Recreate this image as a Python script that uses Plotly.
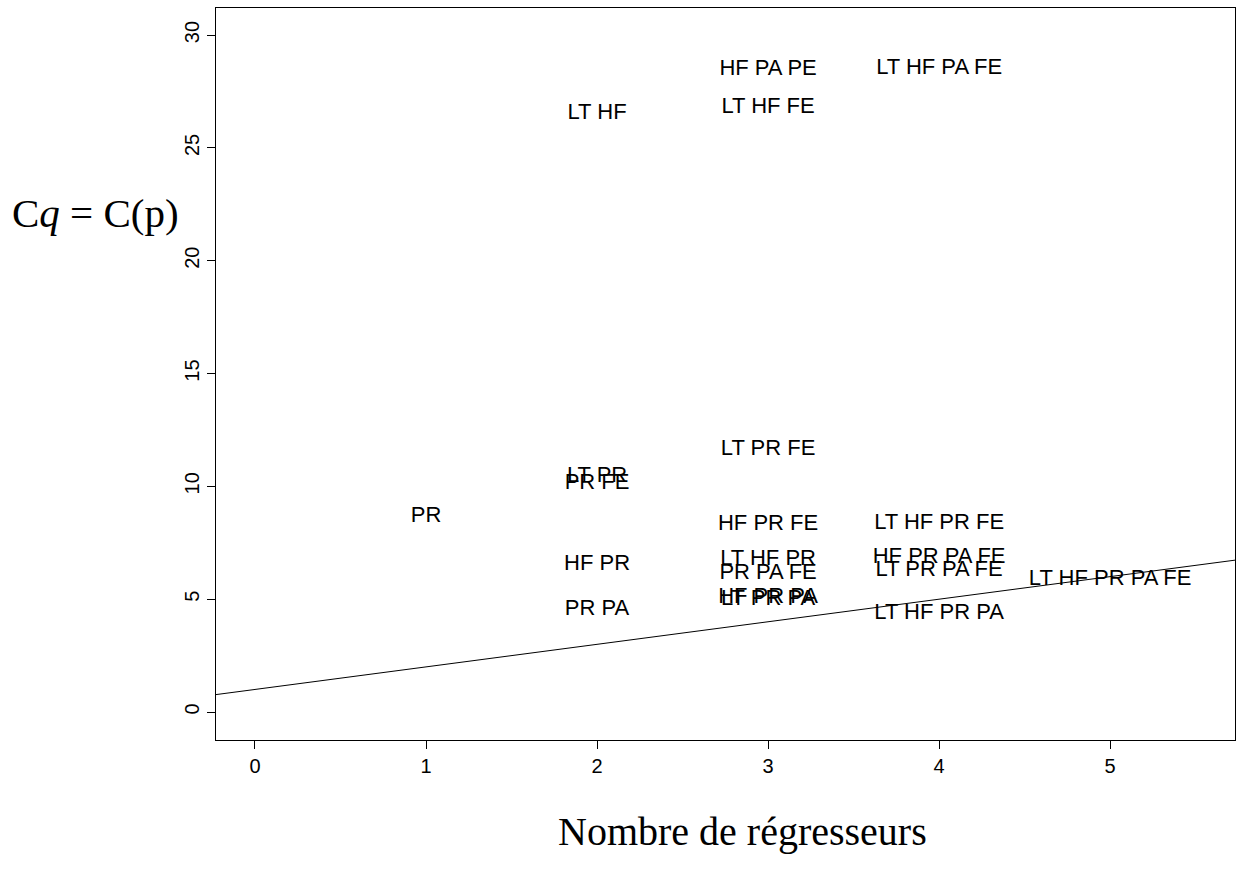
import plotly.graph_objects as go

# Data: number of regressors, Cp values, model labels
n_regressors = [1, 2, 2, 2, 2, 2, 3, 3, 3, 3, 3, 3, 3, 3, 4, 4, 4, 4, 4, 5]
cp_values = [8.65, 10.42, 10.12, 6.52, 4.55, 26.52, 28.47, 26.78, 11.62, 8.3, 6.76, 6.12,
             5.08, 4.98, 28.52, 8.34, 6.84, 6.27, 4.36, 5.87]
model_labels = ["PR", "LT PR", "PR FE", "HF PR", "PR PA", "LT HF",
                "HF PA PE", "LT HF FE", "LT PR FE", "HF PR FE", "LT HF PR", "PR PA FE",
                "HF PR PA", "LT PR PA",
                "LT HF PA FE", "LT HF PR FE", "HF PR PA FE", "LT PR PA FE", "LT HF PR PA",
                "LT HF PR PA FE"]

# Reference line Cp = p + 1 (intercept, slope)
ref_intercept = 1
ref_slope = 1
ref_x = [-1, 7]
ref_y = [ref_intercept + ref_slope * v for v in ref_x]

x_ticks = [0, 1, 2, 3, 4, 5]
y_ticks = [0, 5, 10, 15, 20, 25, 30]

fig = go.Figure()
fig.add_trace(go.Scatter(
    x=ref_x, y=ref_y, mode="lines",
    line=dict(color="black", width=1), showlegend=False, hoverinfo="skip"))
fig.add_trace(go.Scatter(
    x=n_regressors, y=cp_values, mode="text", text=model_labels,
    textposition="middle center",
    textfont=dict(family="Liberation Sans, Arial, sans-serif", size=22, color="black"),
    showlegend=False))

axis_common = dict(
    showline=True, linecolor="black", linewidth=1, mirror=True,
    ticks="outside", ticklen=8, tickcolor="black", tickwidth=1,
    showgrid=False, zeroline=False,
    tickfont=dict(family="Liberation Sans, Arial, sans-serif", size=20, color="black"),
)

fig.update_layout(
    width=1239, height=888,
    margin=dict(l=216, r=4, t=8, b=148),
    paper_bgcolor="white", plot_bgcolor="white",
    xaxis=dict(range=[-0.228, 5.73], tickvals=x_ticks, ticktext=[str(v) for v in x_ticks],
               **axis_common),
    yaxis=dict(range=[-1.24, 31.2], tickvals=y_ticks, ticktext=[str(v) for v in y_ticks],
               tickangle=-90, **axis_common),
)

# Axis titles placed by pixel position, converted to paper coordinates
plot_left, plot_right = 216, 1239 - 4
plot_top, plot_bottom = 8, 888 - 148
w = plot_right - plot_left
h = plot_bottom - plot_top


def px_to_paper(px, py):
    return (px - plot_left) / w, (plot_bottom - py) / h


title_font = dict(family="Liberation Serif, Times New Roman, serif", size=40, color="black")
xt_x, xt_y = px_to_paper(742, 832)
yt_x, yt_y = px_to_paper(95, 213)
fig.add_annotation(text="Nombre de régresseurs", x=xt_x, y=xt_y, xref="paper", yref="paper",
                   showarrow=False, xanchor="center", yanchor="middle", font=title_font)
fig.add_annotation(text="C<i>q</i> = C(p)", x=yt_x, y=yt_y, xref="paper", yref="paper",
                   showarrow=False, xanchor="center", yanchor="middle",
                   font=dict(family="Liberation Serif, Times New Roman, serif", size=41,
                             color="black"))

fig.write_html("out.html")
